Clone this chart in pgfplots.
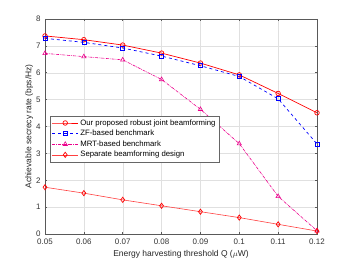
\documentclass[border=0pt]{standalone}
\usepackage{pgfplots}
\pgfplotsset{compat=1.18}
\usepackage{fontspec}
\setmainfont{Liberation Sans}
\begin{document}
\begin{tikzpicture}
\begin{axis}[
  scale only axis,
  width=272bp, height=215bp,
  xmin=0.05, xmax=0.12, ymin=0, ymax=8,
  xtick={0.05,0.06,0.07,0.08,0.09,0.1,0.11,0.12},
  xticklabels={0.05,0.06,0.07,0.08,0.09,0.1,0.11,0.12},
  ytick={0,1,...,8},
  /pgf/number format/assume math mode=true,
  tick label style={font=\fontsize{8}{9}\selectfont, text=black!80},
  xticklabel style={yshift=-1pt},
  yticklabel style={xshift=-1pt},
  label style={font=\fontsize{8.5}{10}\selectfont, text=black!85},
  xlabel={Energy harvesting threshold Q ($\mu$W)},
  ylabel={Achievable secrecy rate (bps/Hz)},
  xlabel style={yshift=1pt},
  ylabel style={yshift=-4pt},
  grid=major,
  major grid style={black!12, line width=0.4pt},
  axis line style={black!65, line width=0.5pt},
  tick style={black!65, line width=0.5pt},
  tick align=inside,
  major tick length=2.5pt,
  legend style={at={(rel axis cs:0.02,0.55)}, anchor=north west,
    font=\fontsize{7.8}{9}\selectfont, draw=black!60,
    inner sep=1.5pt, row sep=-0.5pt, cells={anchor=west}},
  legend cell align=left,
  legend image code/.code={\draw[mark repeat=2,mark phase=2] plot coordinates {(0cm,0cm) (0.45cm,0cm) (0.9cm,0cm)};},
]
\addplot[red, line width=0.7pt, mark=o, mark size=2.3pt, mark options={solid}] coordinates {
(0.05,7.37) (0.06,7.23) (0.07,7.03) (0.08,6.73) (0.09,6.36) (0.10,5.92) (0.11,5.23) (0.12,4.51)};
\addlegendentry{Our proposed robust joint beamforming}
\addplot[blue, line width=0.7pt, dashed, mark=square, mark size=2pt, mark options={solid}] coordinates {
(0.05,7.28) (0.06,7.13) (0.07,6.92) (0.08,6.62) (0.09,6.26) (0.10,5.86) (0.11,5.03) (0.12,3.35)};
\addlegendentry{ZF-based benchmark}
\addplot[magenta, line width=0.6pt, densely dashdotted, mark=triangle, mark size=2.5pt, mark options={solid}] coordinates {
(0.05,6.72) (0.06,6.60) (0.07,6.48) (0.08,5.75) (0.09,4.64) (0.10,3.36) (0.11,1.40) (0.12,0.12)};
\addlegendentry{MRT-based benchmark}
\addplot[red!75, line width=0.6pt, mark=diamond, mark size=2.6pt, mark options={solid, red, line width=0.7pt}] coordinates {
(0.05,1.74) (0.06,1.52) (0.07,1.27) (0.08,1.05) (0.09,0.83) (0.10,0.61) (0.11,0.36) (0.12,0.11)};
\addlegendentry{Separate beamforming design}
\end{axis}
\path (current axis.south west) ++(-45bp,-29bp) coordinate (bbA);
\path (current axis.north east) ++(33bp,19bp) coordinate (bbB);
\path (bbA) rectangle (bbB);
\end{tikzpicture}
\end{document}
